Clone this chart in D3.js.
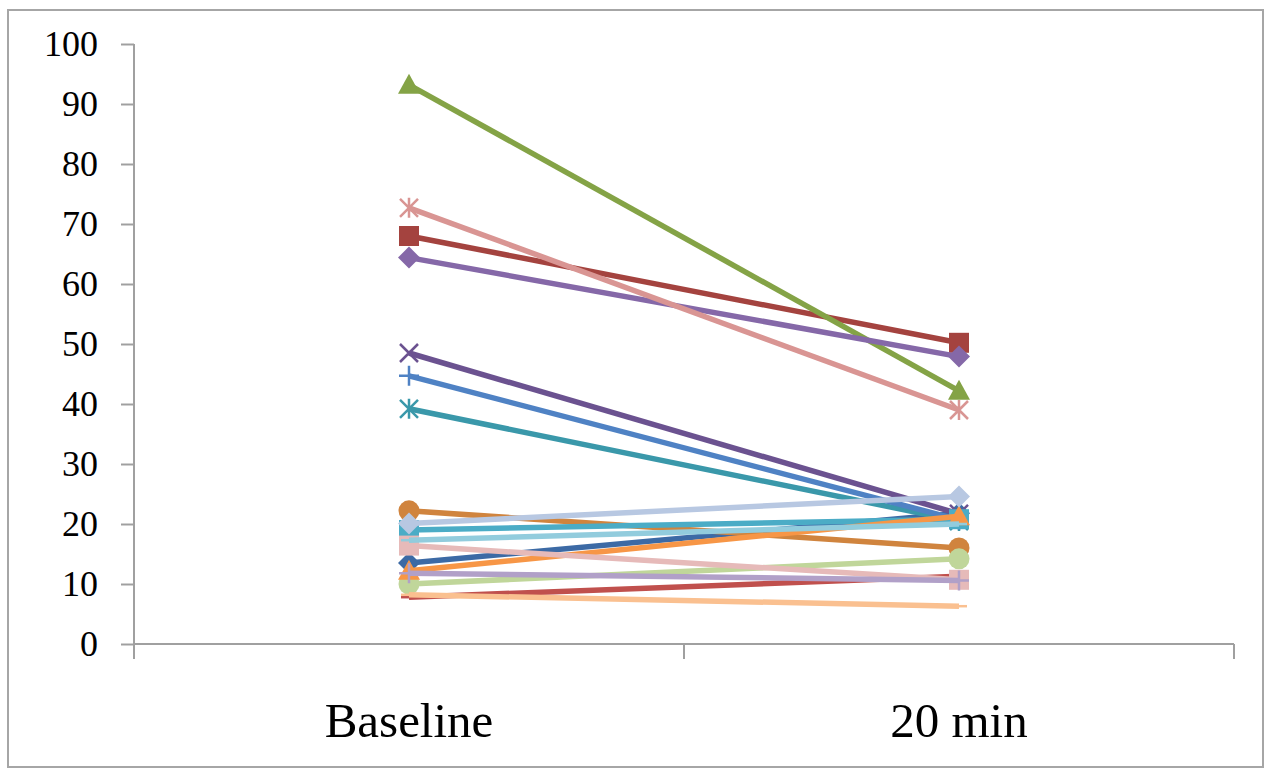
<!DOCTYPE html>
<html>
<head>
<meta charset="utf-8">
<script src="https://cdn.jsdelivr.net/npm/d3@7/dist/d3.min.js"></script>
<style>
body { margin: 0; background: #fff; }
text { font-family: "Liberation Serif", "DejaVu Serif", serif; }
</style>
</head>
<body>
<script>
var svgWidth = 1265;
var svgHeight = 769;

// categories and tick labels
var categories = ["Baseline", "20 min"];
var yTicks = [0, 10, 20, 30, 40, 50, 60, 70, 80, 90, 100];

// one entry per subject: [baseline, 20 min]
var seriesValues = [
    [13.5, 21.8],
    [68.0, 50.2],
    [93.2, 42.2],
    [48.5, 21.7],
    [39.2, 20.5],
    [22.2, 16.0],
    [44.7, 20.7],
    [7.8, 11.3],
    [10.0, 14.2],
    [64.4, 47.9],
    [19.0, 20.8],
    [12.2, 21.3],
    [20.1, 24.6],
    [72.7, 39.0],
    [16.4, 10.7],
    [11.8, 10.6],
    [17.3, 20.0],
    [8.2, 6.3]
];
var seriesColors = ["#3c6aa5", "#a4433f", "#84a346", "#6b5290", "#3a98aa", "#d0843e",
    "#4f82c4", "#c0504d", "#c0d69a", "#8568a8", "#4bacc6", "#f79646",
    "#b8c8e2", "#d99593", "#e6bab9", "#b1a0c8", "#92ccdd", "#fac090"];
var seriesMarkers = ["diamond", "square", "triangle", "x", "star", "circle",
    "plus", "dash", "circle", "diamond", "square", "triangle",
    "diamond", "star", "square", "plus", "dash", "dash"];

var svg = d3.select("body").append("svg").attr("width", svgWidth).attr("height", svgHeight);

// outer frame
svg.append("rect")
    .attr("x", 8).attr("y", 10)
    .attr("width", 1255).attr("height", 757)
    .attr("fill", "none")
    .attr("stroke", "#a6a6a6")
    .attr("stroke-width", 2);

var x = d3.scaleBand().domain(categories).range([134, 1234]);
var y = d3.scaleLinear().domain([0, 100]).range([644, 44]);

// y axis
var yAxis = svg.append("g")
    .attr("transform", "translate(134,0)")
    .call(d3.axisLeft(y).tickValues(yTicks).tickSize(13).tickSizeOuter(0).tickPadding(23));
yAxis.select(".domain").remove();
yAxis.selectAll(".tick line").attr("stroke", "#a0a0a0").attr("stroke-width", 2);
yAxis.selectAll(".tick text")
    .attr("font-size", 36)
    .attr("fill", "#000")
    .attr("font-family", "Liberation Serif");
svg.append("line")
    .attr("x1", 134).attr("x2", 134)
    .attr("y1", y(100)).attr("y2", y(0) + 15)
    .attr("stroke", "#a0a0a0").attr("stroke-width", 2);

// x axis with ticks on category boundaries
svg.append("line")
    .attr("x1", 134).attr("x2", 1234)
    .attr("y1", y(0)).attr("y2", y(0))
    .attr("stroke", "#a0a0a0").attr("stroke-width", 2);
var bounds = categories.map(function(c) { return x(c); }).concat([x.range()[1]]);
svg.selectAll(".xtick").data(bounds).enter().append("line")
    .attr("class", "xtick")
    .attr("x1", function(d) { return d; }).attr("x2", function(d) { return d; })
    .attr("y1", y(0)).attr("y2", y(0) + 15)
    .attr("stroke", "#a0a0a0").attr("stroke-width", 2);
svg.selectAll(".xlabel").data(categories).enter().append("text")
    .attr("class", "xlabel")
    .attr("x", function(d) { return x(d) + x.bandwidth() / 2; })
    .attr("y", 737)
    .attr("text-anchor", "middle")
    .attr("font-size", 49)
    .text(function(d) { return d; });

function markerPath(type) {
    var s = 10;
    if (type === "diamond") return "M0," + (-s - 1) + "L" + (s + 1) + ",0L0," + (s + 1) + "L" + (-s - 1) + ",0Z";
    if (type === "square") return "M" + -s + "," + -s + "h" + 2 * s + "v" + 2 * s + "h" + -2 * s + "Z";
    if (type === "triangle") return "M0," + (-s - 1) + "L" + (s + 1) + "," + (s - 1) + "L" + (-s - 1) + "," + (s - 1) + "Z";
    if (type === "x") return "M-9,-9L9,9M-9,9L9,-9";
    if (type === "star") return "M-9,-9L9,9M-9,9L9,-9M0,-10V10";
    if (type === "plus") return "M-10,0H10M0,-10V10";
    if (type === "dash") return "M-8,0H8";
    return null;
}

var series = svg.selectAll(".series").data(seriesValues).enter().append("g").attr("class", "series");

series.append("path")
    .attr("d", function(vals) {
        return d3.line()
            .x(function(v, i) { return x(categories[i]) + x.bandwidth() / 2; })
            .y(function(v) { return y(v); })(vals);
    })
    .attr("fill", "none")
    .attr("stroke", function(vals, i) { return seriesColors[i]; })
    .attr("stroke-width", 5.5);

series.each(function(vals, i) {
    var g = d3.select(this);
    var type = seriesMarkers[i];
    vals.forEach(function(v, j) {
        var cx = x(categories[j]) + x.bandwidth() / 2;
        var cy = y(v);
        if (type === "circle") {
            g.append("circle").attr("cx", cx).attr("cy", cy).attr("r", 10.5)
                .attr("fill", seriesColors[i]);
        } else {
            var lineOnly = (type === "x" || type === "star" || type === "plus" || type === "dash");
            g.append("path")
                .attr("d", markerPath(type))
                .attr("transform", "translate(" + cx + "," + cy + ")")
                .attr("fill", lineOnly ? "none" : seriesColors[i])
                .attr("stroke", seriesColors[i])
                .attr("stroke-width", lineOnly ? 2.5 : 0);
        }
    });
});
</script>
</body>
</html>
